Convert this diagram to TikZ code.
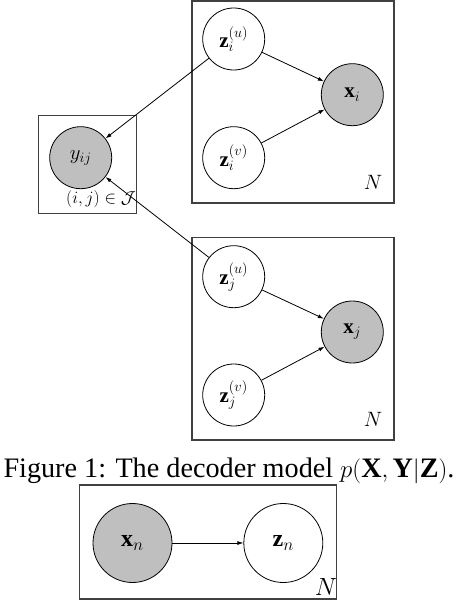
\documentclass[tikz,border=0pt]{standalone}
\usepackage{fontspec}
\setmainfont{Liberation Serif}
\usetikzlibrary{arrows.meta,calc}
\newcommand{\hidden}[3]{%
 \node[varnode] ({#1}) at ({#2}) {{#3}};%
}
\newcommand{\seen}[3]{%
 \node[varnode,fill=black!25] ({#1}) at ({#2}) {{#3}};%
}
\newcommand{\plate}[4]{%
 \draw[draw=black!75,line width=1.2pt] ({#2}) rectangle ({#3});%
 \node[anchor=center] ({#1}) at ($({#3})+(-21,-21)$) {{#4}};%
}

\begin{document}
\begin{tikzpicture}[x=1pt,y=-1pt,
  varnode/.style={circle,draw,thick,minimum size=62pt,inner sep=0pt,
    font=\fontsize{21}{24}\selectfont},
  bignode/.style={varnode,minimum size=79pt,font=\fontsize{24}{28}\selectfont},
  every node/.style={font=\fontsize{20}{24}\selectfont},
  >={Latex[length=6pt,width=4pt]}]
  \useasboundingbox (0,0) rectangle (460,602);
  % upper model
  \plate{Ni}{192,1}{394,203}{$N$};
  \hidden{ziu}{233.7,39}{$\mathbf{z}_i^{(u)}$};
  \hidden{ziv}{233.7,157.7}{$\mathbf{z}_i^{(v)}$};
  \seen{xi}{352.3,94.7}{$\mathbf{x}_i$};
  \plate{Nj}{192,237.7}{394,440}{$N$};
  \hidden{zju}{233.7,276.7}{$\mathbf{z}_j^{(u)}$};
  \hidden{zjv}{233.7,395}{$\mathbf{z}_j^{(v)}$};
  \seen{xj}{352.3,332}{$\mathbf{x}_j$};
  \draw[draw=black!75,line width=1.2pt] (38.7,115.7) rectangle (136.7,213.7);
  \seen{yij}{80.7,157.7}{$y_{ij}$};
  \node[font=\fontsize{18.5}{22}\selectfont] (J) at (101,199.3) {$(i,j)\in\mathcal{J}$};
  \draw[->,thick] (ziu) -- (xi);
  \draw[->,thick] (ziv) -- (xi);
  \draw[->,thick] (zju) -- (xj);
  \draw[->,thick] (zjv) -- (xj);
  \draw[->,thick] (ziu) -- (yij);
  \draw[->,thick] (zju) -- (yij);
  % caption
  \node[anchor=base,inner sep=0pt,font=\fontsize{28.2}{32}\selectfont] (cap) at (229,477)
    {Figure 1: The decoder model $p(\mathbf{X},\mathbf{Y}|\mathbf{Z})$.};
  % lower model
  \draw[draw=black!75,line width=1.2pt] (79.3,485) rectangle (336.7,599);
  \node[font=\fontsize{24}{28}\selectfont] (Nn) at (326,587) {$N$};
  \node[bignode,fill=black!25] (xn) at (132.5,543) {$\mathbf{x}_n$};
  \node[bignode] (zn) at (283.3,543) {$\mathbf{z}_n$};
  \draw[->,thick] (xn) -- (zn);
\end{tikzpicture}
\end{document}
